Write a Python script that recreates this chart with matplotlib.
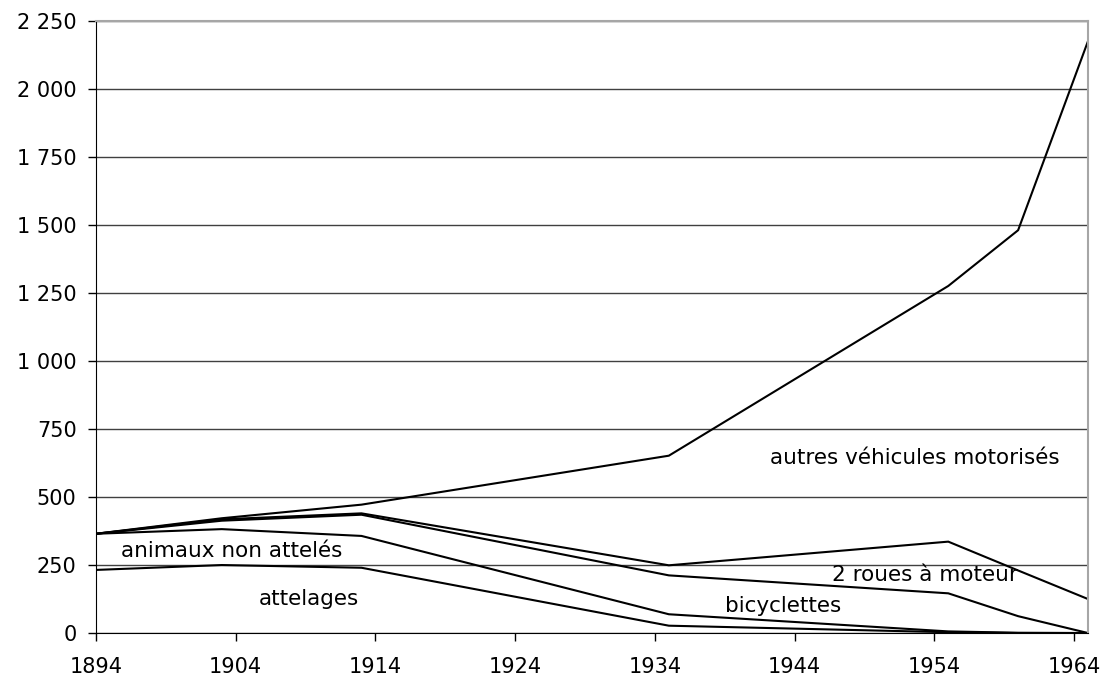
import numpy as np
import matplotlib
matplotlib.use("Agg")
import matplotlib.pyplot as plt
from matplotlib.ticker import FuncFormatter

# census years and counts per category (stacked)
years = [1894, 1903, 1913, 1935, 1955, 1960, 1965]
attelages = [232, 250, 240, 27, 3, 0, 0]
animaux = [133, 132, 117, 42, 3, 1, 0]
bicyclettes = [0, 31, 78, 143, 140, 61, 0]
deux_roues = [0, 5, 5, 37, 190, 168, 125]
autres = [0, 4, 32, 403, 940, 1251, 2051]

series = [attelages, animaux, bicyclettes, deux_roues, autres]
labels = ["attelages", "animaux non attelés", "bicyclettes",
          "2 roues à moteur", "autres véhicules motorisés"]
label_pos = [(1909.2, 125), (1903.7, 301), (1943.2, 99),
             (1953.3, 213), (1952.6, 643)]

xticks = list(range(1894, 1965, 10))
yticks = list(range(0, 2251, 250))

plt.rcParams["font.family"] = "DejaVu Sans"

fig = plt.figure(figsize=(11.05, 6.79), dpi=100)
ax = fig.add_axes([0.0869, 0.0677, 0.8977, 0.9013])

cum = np.cumsum(np.array(series), axis=0)
for row in cum:
    ax.plot(years, row, color="black", lw=1.5, solid_joinstyle="miter")

for text, (x, y) in zip(labels, label_pos):
    ax.text(x, y, text, ha="center", va="center", fontsize=15.5)

ax.set_xlim(1894, 1965)
ax.set_ylim(0, 2250)
ax.set_xticks(xticks)
ax.set_yticks(yticks)
ax.yaxis.set_major_formatter(
    FuncFormatter(lambda v, _: f"{int(v):,}".replace(",", " ")))
ax.yaxis.grid(True, color="#404040", lw=1)
ax.set_axisbelow(True)
ax.tick_params(labelsize=15, length=6, width=1, direction="out")
ax.tick_params(axis="y", pad=8)
ax.tick_params(axis="x", pad=11)

for side in ("left", "bottom"):
    ax.spines[side].set_color("black")
for side in ("top", "right"):
    ax.spines[side].set_color("#a6a6a6")
    ax.spines[side].set_linewidth(1.5)

fig.savefig("out.png", dpi=100)
